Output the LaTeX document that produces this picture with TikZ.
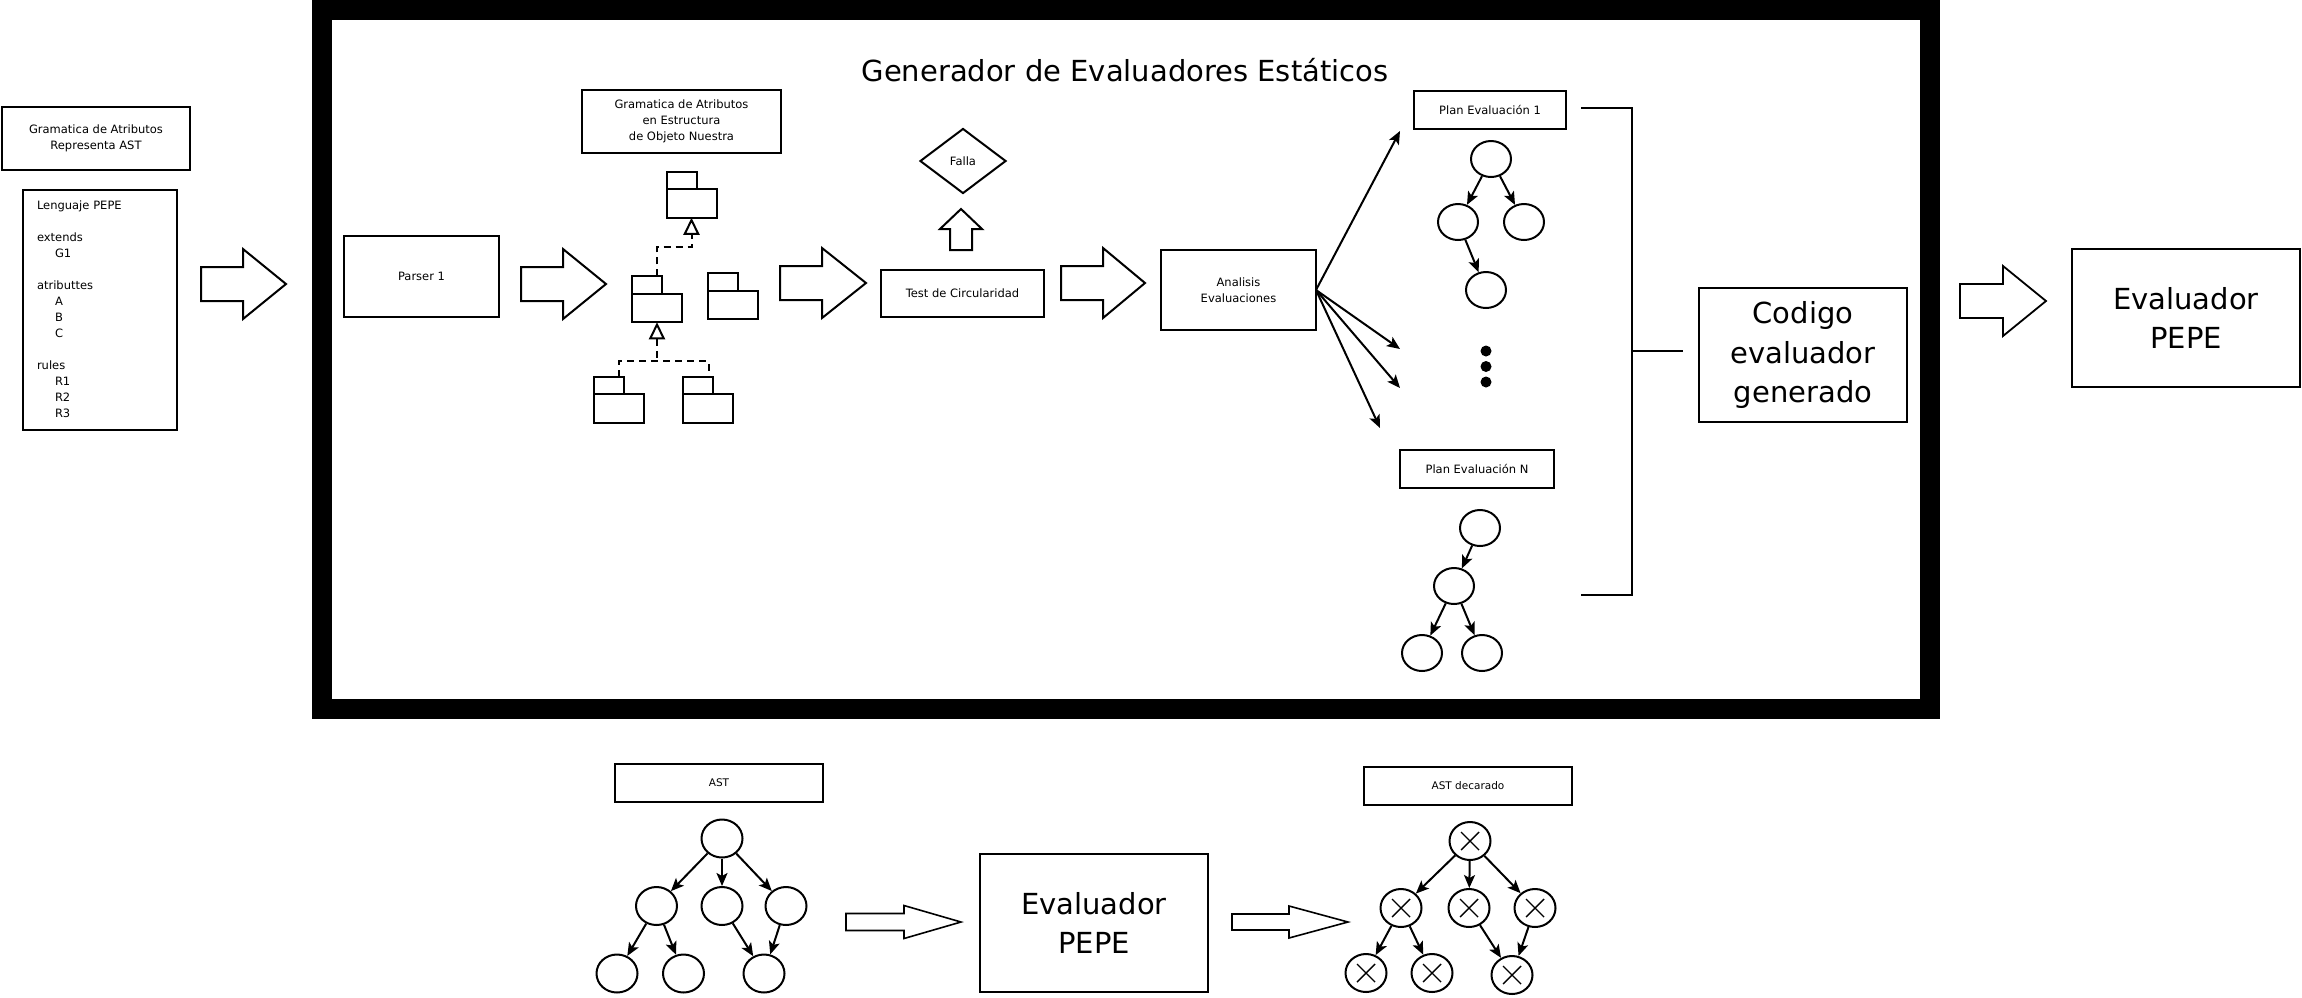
\documentclass[tikz,border=0pt]{standalone}
\usepackage{fontspec}
\setmainfont{DejaVu Sans}
\usetikzlibrary{arrows.meta,shapes.geometric}
\newcommand\fsmall{\fontsize{11.5}{16}\selectfont}
\newcommand\fast{\fontsize{10.5}{14}\selectfont}
\newcommand\fbig{\fontsize{29}{39.5}\selectfont}
\newcommand\harrow[7]{% x0,x1,xh,yc,sh,hh,lw
  \draw[hollowarrow, line width=#7] ({#1},{#4-#5}) -- ({#3},{#4-#5}) -- ({#3},{#4-#6}) -- ({#2},{#4})
    -- ({#3},{#4+#6}) -- ({#3},{#4+#5}) -- ({#1},{#4+#5}) -- cycle;}
\begin{document}
\begin{tikzpicture}[x=1pt,y=-1pt,
  box/.style={draw, line width=2pt, inner sep=0pt, outer sep=0pt, align=center, font=\fsmall},
  bigbox/.style={draw, line width=1.6pt, inner sep=0pt, outer sep=0pt, align=center, font=\fbig},
  hollowarrow/.style={draw, fill=white, line join=miter},
  pkbody/.style={draw, line width=2pt, inner sep=0pt, outer sep=0pt, minimum width=50pt, minimum height=28.5pt},
  pktab/.style={draw, line width=2pt, inner sep=0pt, outer sep=0pt, minimum width=30pt, minimum height=17.5pt, anchor=south west},
  dashline/.style={line width=2pt, dash pattern=on 7pt off 5pt},
  tnode/.style={draw, ellipse, line width=2pt, inner sep=0pt, minimum width=40pt, minimum height=36pt},
  anode/.style={draw, ellipse, line width=2pt, inner sep=0pt, minimum width=41pt, minimum height=38pt},
  edge/.style={line width=2pt, -{Stealth[length=13pt, width=11pt, inset=3pt]}},
  dot/.style={circle, fill=black, inner sep=0pt, minimum size=11pt},
  brk/.style={line width=1.7pt}
]
\useasboundingbox (0,0) rectangle (2302,997);

% frame
\draw[line width=20pt] (322,9.5) rectangle (1930,709);
\node[anchor=base, font=\fbig] (title) at (1125,81) {Generador de Evaluadores Estáticos};

% left
\node[box, minimum width=188.5pt, minimum height=63pt] (gast) at (96,138) {Gramatica de Atributos\\Representa AST};
\node[box, minimum width=154pt, minimum height=240pt, text width=125pt, align=left, inner xsep=14.5pt] (lang) at (99.5,309.5)
 {Lenguaje PEPE\\[16pt]extends\\\hspace*{18pt}G1\\[16pt]atributtes\\\hspace*{18pt}A\\\hspace*{18pt}B\\\hspace*{18pt}C\\[16pt]rules\\\hspace*{18pt}R1\\\hspace*{18pt}R2\\\hspace*{18pt}R3};
\harrow{201}{286}{243}{284}{17}{35}{2pt}

% parser
\node[box, minimum width=155pt, minimum height=81pt] (parser) at (421.5,276.5) {Parser 1};
\harrow{521}{606}{563}{284}{17}{35}{2pt}

% object structure
\node[box, minimum width=199pt, minimum height=63pt] (gobj) at (681.5,121.5) {Gramatica de Atributos\\en Estructura\\de Objeto Nuestra};
\node[pkbody] (p0) at (691.5,203.5) {};
\node[pktab] (t0) at (p0.north west) {};
\node[pkbody] (p1) at (657,308) {};
\node[pktab] (t1) at (p1.north west) {};
\node[pkbody] (p2) at (733,305) {};
\node[pktab] (t2) at (p2.north west) {};
\node[pkbody] (p3) at (619,408.5) {};
\node[pktab] (t3) at (p3.north west) {};
\node[pkbody] (p4) at (707.5,408.5) {};
\node[pktab] (t4) at (p4.north west) {};
\draw[dashline, -{Triangle[open, length=17pt, width=16pt]}] ([xshift=10pt]t1.north) |- ([yshift=-29pt]p0.south) -- (p0.south);
\coordinate (jb) at (657,361);
\draw[dashline, {Triangle[open, length=17pt, width=16pt]}-] (p1.south) -- (jb);
\draw[dashline] ([xshift=10pt]t3.north) |- (jb) -| ([xshift=11pt]t4.north);
\harrow{780}{866}{822}{283}{17}{35}{2pt}

% test
\node[box, minimum width=163pt, minimum height=47pt] (test) at (962.5,293.5) {Test de Circularidad};
\node[draw, diamond, line width=2pt, inner sep=0pt, minimum width=86pt, minimum height=65pt, font=\fsmall] (falla) at (963,161) {Falla};
\draw[hollowarrow, line width=2pt] (950,250) -- (950,229) -- (940,229) -- (961,209) -- (982,229) -- (972,229) -- (972,250) -- cycle;
\harrow{1061}{1145}{1103}{283}{17}{35}{2pt}

% analisis
\node[box, minimum width=155pt, minimum height=80pt] (ana) at (1238.5,290) {Analisis\\Evaluaciones};
\coordinate (f1) at (1400,131);
\coordinate (f2) at (1400,349);
\coordinate (f3) at (1400,388);
\coordinate (f4) at (1380,428);
\foreach \f in {f1,f2,f3,f4} \draw[edge] (ana.east) -- (\f);

% plans
\node[box, minimum width=152pt, minimum height=38pt] (plan1) at (1490,109.5) {Plan Evaluación 1};
\node[tnode] (r1) at (1491,159) {};
\node[tnode] (a1) at (1458,222) {};
\node[tnode] (b1) at (1524,222) {};
\node[tnode] (c1) at (1486,290) {};
\draw[edge] (r1) -- (a1);
\draw[edge] (r1) -- (b1);
\draw[edge] (a1) -- (c1);
\node[dot] (dt1) at (1486,351) {};
\node[dot] (dt2) at (1486,366.5) {};
\node[dot] (dt3) at (1486,382) {};
\node[box, minimum width=154pt, minimum height=38pt] (planN) at (1477,469) {Plan Evaluación N};
\node[tnode] (rN) at (1480,528) {};
\node[tnode] (mN) at (1454,586) {};
\node[tnode] (lN) at (1422,653) {};
\node[tnode] (qN) at (1482,653) {};
\draw[edge] (rN) -- (mN);
\draw[edge] (mN) -- (lN);
\draw[edge] (mN) -- (qN);

% bracket
\coordinate (bt) at (1581,108);
\coordinate (bb) at (1581,595);
\coordinate (bm) at (1632,351);
\coordinate (be) at (1683,351);
\draw[brk] (bt) -| (bm) |- (bb);
\draw[brk] (bm) -- (be);

% codigo
\node[bigbox, line width=1.4pt, minimum width=208pt, minimum height=134pt] (cod) at (1803,355) {Codigo\\evaluador\\generado};
\harrow{1960}{2046}{2003}{301}{17}{35}{1.8pt}
\node[bigbox, minimum width=228pt, minimum height=138pt] (eval1) at (2186,318) {Evaluador\\PEPE};

% bottom: AST
\node[box, font=\fast, minimum width=208pt, minimum height=38pt] (ast) at (719,783) {AST};
\node[anode] (s0) at (722,838.5) {};
\node[anode] (s1) at (656.5,906) {};
\node[anode] (s2) at (722,906) {};
\node[anode] (s3) at (786,906) {};
\node[anode] (s4) at (617,973.5) {};
\node[anode] (s5) at (683.5,973.5) {};
\node[anode] (s6) at (764,973.5) {};
\draw[edge] (s0) -- (s1);
\draw[edge] (s0) -- (s2);
\draw[edge] (s0) -- (s3);
\draw[edge] (s1) -- (s4);
\draw[edge] (s1) -- (s5);
\draw[edge] (s2) -- (s6);
\draw[edge] (s3) -- (s6);
\harrow{846}{961}{904}{922}{8.5}{16.5}{1.6pt}
\node[bigbox, minimum width=228pt, minimum height=138pt] (eval2) at (1094,923) {Evaluador\\PEPE};
\harrow{1232}{1348}{1289}{922}{8}{16}{1.6pt}

% bottom: decorated AST
\node[box, font=\fast, minimum width=208pt, minimum height=38pt] (astd) at (1468,786) {AST decarado};
\node[anode] (d0) at (1470,841) {};
\node[anode] (d1) at (1401,908) {};
\node[anode] (d2) at (1469,908) {};
\node[anode] (d3) at (1535,908) {};
\node[anode] (d4) at (1366,973) {};
\node[anode] (d5) at (1432,973) {};
\node[anode] (d6) at (1512,975) {};
\foreach \n in {d0,d1,d2,d3,d4,d5,d6}
  \draw[line width=1.4pt] ([shift={(-9pt,-9pt)}]\n.center) -- ([shift={(9pt,9pt)}]\n.center)
        ([shift={(-9pt,9pt)}]\n.center) -- ([shift={(9pt,-9pt)}]\n.center);
\draw[edge] (d0) -- (d1);
\draw[edge] (d0) -- (d2);
\draw[edge] (d0) -- (d3);
\draw[edge] (d1) -- (d4);
\draw[edge] (d1) -- (d5);
\draw[edge] (d2) -- (d6);
\draw[edge] (d3) -- (d6);
\end{tikzpicture}
\end{document}
